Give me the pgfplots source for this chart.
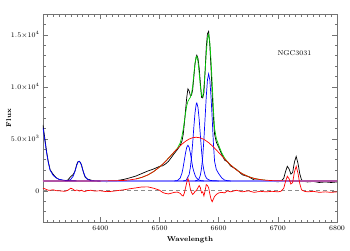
\documentclass[border=0pt]{standalone}
\usepackage{pgfplots}
\pgfplotsset{compat=1.18}
\definecolor{cgreen}{RGB}{0,205,0}
\definecolor{cblue}{RGB}{0,0,255}
\definecolor{ccont}{RGB}{135,130,255}
\definecolor{cred}{RGB}{255,0,0}
\begin{document}
\begin{tikzpicture}
\begin{axis}[
 scale only axis, width=294pt, height=208pt,
 xmin=6303, xmax=6800, ymin=-3000, ymax=17000,
 xtick={6400,6500,6600,6700,6800},
 minor xtick={6310,6320,...,6800},
 ytick={0,5000,10000,15000},
 yticklabels={$0$,$5.0{\times}10^{3}$,$1.0{\times}10^{4}$,$1.5{\times}10^{4}$},
 minor ytick={-3000,-2000,...,17000},
 tick align=inside,
 major tick length=5pt, minor tick length=2.5pt,
 x tick label style={/pgf/number format/1000 sep={}},
 tick label style={font=\fontsize{7}{8}\selectfont},
 xlabel=Wavelength, ylabel=Flux,
 label style={font=\bfseries\fontsize{7}{8}\selectfont},
 ylabel style={at={(axis description cs:-0.117,0.5)}, anchor=center, rotate=0},
 axis line style={black!55},
 every tick/.style={black!55},
 scaled ticks=false,
]
% observed spectrum
\addplot[black, line width=0.7pt] coordinates {
(6303,6330)(6306,5080)(6309,3810)(6312,2780)(6315,2030)(6320,1600)(6325,1270)(6330,1100)(6340,960)(6345,1040)(6350,1377)(6354,1560)(6357,1880)(6360,2530)(6362,2790)(6364,2830)(6366,2740)(6368,2510)(6371,1840)(6374,1340)(6378,1130)(6384,1030)(6390,935)(6400,952)(6410,874)(6420,910)(6430,1004)(6440,1100)(6450,1251)(6460,1420)(6470,1659)(6480,1898)(6490,2098)(6500,2348)(6505,2397)(6510,2579)(6515,2827)(6520,3205)(6525,3595)(6530,3954)(6535,4360)(6538,4814)(6540,5414)(6542,6489)(6544,7767)(6546,8978)(6548,9805)(6550,9613)(6552,9175)(6554,9181)(6556,9705)(6558,10955)(6560,12218)(6562,12882)(6563,13040)(6565,12736)(6567,11836)(6569,10380)(6571,8988)(6573,8935)(6575,9430)(6577,11464)(6579,13819)(6581,15103)(6583,15334)(6585,13998)(6587,11793)(6589,9343)(6591,7136)(6593,5455)(6596,4678)(6600,4184)(6605,3524)(6610,2947)(6615,2791)(6620,2395)(6630,2062)(6640,1538)(6650,1370)(6660,1041)(6670,1031)(6680,917)(6690,932)(6700,865)(6705,908)(6710,1206)(6713,1855)(6716,2353)(6719,2103)(6722,1603)(6725,1753)(6728,2753)(6731,3303)(6734,2653)(6737,1653)(6740,1050)(6745,900)(6750,850)(6760,900)(6770,800)(6780,850)(6790,800)(6800,850)};
% total fit
\addplot[cgreen, line width=0.7pt] coordinates {
(6460,1140)(6470,1289)(6480,1518)(6490,1848)(6500,2288)(6505,2547)(6510,2829)(6515,3127)(6520,3435)(6525,3745)(6530,4074)(6535,4610)(6538,5264)(6540,5914)(6542,6689)(6544,7467)(6546,8178)(6548,8605)(6550,8813)(6552,8975)(6554,9331)(6556,10055)(6558,11205)(6560,12268)(6562,12882)(6563,12940)(6565,12436)(6567,11336)(6569,10080)(6571,9188)(6573,9035)(6575,9930)(6577,11464)(6579,13219)(6581,14603)(6583,15034)(6585,14298)(6587,12593)(6589,10393)(6591,7936)(6593,6005)(6596,5028)(6600,4384)(6605,3674)(6610,3147)(6615,2791)(6620,2495)(6630,2012)(6640,1638)(6650,1370)(6660,1191)(6670,1081)(6680,1017)};
% continuum
\addplot[ccont, line width=1.6pt] coordinates {(6303,950)(6800,950)};
% narrow components
\addplot[cblue, line width=0.7pt] coordinates {
(6303,6080)(6306,4880)(6309,3690)(6312,2720)(6315,1980)(6320,1500)(6325,1250)(6330,1100)(6340,1000)(6350,967)(6360,955)};
\addplot[cblue, line width=0.7pt] coordinates {
(6340,955)(6345,960)(6350,1110)(6354,1400)(6357,1880)(6360,2450)(6362,2740)(6364,2850)(6366,2740)(6368,2450)(6371,1880)(6374,1400)(6378,1110)(6384,980)(6390,955)(6400,950)};
\addplot[cblue, line width=0.7pt] coordinates {
(6525,950)(6530,977)(6535,1228)(6538,1725)(6540,2277)(6542,2960)(6544,3653)(6546,4181)(6548,4380)(6550,4181)(6552,3653)(6554,2960)(6556,2277)(6558,1850)(6560,1510)(6562,1280)(6563,1210)(6565,1100)(6567,1030)(6569,990)(6571,970)(6575,950)};
\addplot[cblue, line width=0.7pt] coordinates {
(6540,950)(6545,1010)(6550,1558)(6552,2195)(6554,3200)(6556,4573)(6558,6125)(6560,7513)(6562,8338)(6563,8450)(6565,8015)(6567,6860)(6569,5345)(6571,3853)(6573,2645)(6575,1950)(6577,1500)(6579,1250)(6581,1130)(6585,1010)(6590,970)(6600,950)};
\addplot[cblue, line width=0.7pt] coordinates {
(6560,950)(6565,1032)(6567,1177)(6569,1506)(6571,2165)(6573,3278)(6575,4936)(6577,6986)(6579,9066)(6581,10653)(6583,11250)(6585,10653)(6587,9066)(6589,6986)(6591,4650)(6593,2850)(6596,2050)(6600,1650)(6605,1250)(6610,1030)(6615,970)(6620,950)};
% broad component
\addplot[cred, line width=0.7pt] coordinates {
(6303,950)(6400,952)(6420,960)(6440,1000)(6450,1051)(6460,1140)(6470,1289)(6480,1518)(6490,1848)(6500,2288)(6505,2547)(6510,2829)(6515,3127)(6520,3435)(6525,3745)(6530,4047)(6535,4332)(6540,4587)(6545,4803)(6550,4974)(6556,5105)(6562,5150)(6569,5089)(6575,4944)(6583,4634)(6590,4277)(6595,3988)(6600,3684)(6605,3374)(6610,3067)(6615,2771)(6620,2495)(6625,2240)(6630,2012)(6635,1811)(6640,1638)(6645,1491)(6650,1370)(6655,1270)(6660,1191)(6670,1081)(6680,1017)(6690,982)(6700,965)(6710,956)(6720,952)(6800,950)};
% zero line
\addplot[black!45, line width=1.1pt, dash pattern=on 4pt off 3pt] coordinates {(6303,0)(6800,0)};
% residuals
\addplot[cred, line width=0.7pt] coordinates {
(6303,250)(6306,200)(6309,120)(6312,60)(6315,50)(6320,100)(6325,20)(6330,0)(6340,-50)(6345,50)(6350,250)(6354,150)(6357,0)(6360,80)(6362,50)(6364,-20)(6366,0)(6368,60)(6371,-40)(6374,-60)(6378,20)(6384,50)(6390,-20)(6400,0)(6410,-80)(6420,-50)(6430,30)(6440,100)(6450,200)(6460,280)(6470,370)(6480,380)(6490,250)(6500,60)(6505,-150)(6510,-250)(6515,-300)(6520,-230)(6525,-150)(6530,-120)(6535,-250)(6538,-450)(6540,-500)(6542,-200)(6544,300)(6546,800)(6548,1200)(6550,800)(6552,200)(6554,-150)(6556,-350)(6558,-250)(6560,-50)(6562,0)(6563,100)(6565,300)(6567,500)(6569,300)(6571,-200)(6573,-100)(6575,-500)(6577,0)(6579,600)(6581,500)(6583,300)(6585,-300)(6587,-800)(6589,-1050)(6591,-800)(6593,-550)(6596,-350)(6600,-200)(6605,-150)(6610,-200)(6615,0)(6620,-100)(6630,50)(6640,-100)(6650,0)(6660,-150)(6670,-50)(6680,-100)(6690,-50)(6700,-100)(6705,-50)(6710,250)(6713,900)(6716,1400)(6719,1150)(6722,650)(6725,800)(6728,1800)(6731,2350)(6734,1700)(6737,700)(6740,100)(6745,-50)(6750,-100)(6760,-50)(6770,-150)(6780,-100)(6790,-150)(6800,-100)};
\node[font=\fontsize{7}{8}\selectfont] at (axis cs:6728,13270) {NGC3031};
\end{axis}
\pgfresetboundingbox
\path[use as bounding box] (current axis.south west) ++(-43pt,-28pt) rectangle ++(350pt,250pt);
\end{tikzpicture}
\end{document}
